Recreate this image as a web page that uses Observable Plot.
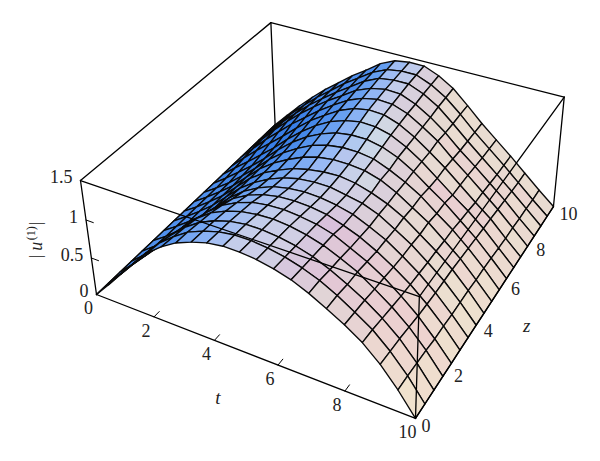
<!DOCTYPE html>
<html><head><meta charset="utf-8">
<style>html,body{margin:0;padding:0;background:#fff}svg{display:block}</style>
<script src="https://cdn.jsdelivr.net/npm/d3@7"></script>
<script src="https://cdn.jsdelivr.net/npm/@observablehq/plot@0.6"></script>
</head><body><div id="chart"></div>
<script>
const tGrid=[0,.5,1,1.5,2,2.5,3,3.5,4,4.5,5,5.5,6,6.5,7,7.5,8,8.5,9,9.5,10];
const zGrid=[0,.56,1.11,1.67,2.22,2.78,3.33,3.89,4.44,5,5.56,6.11,6.67,7.22,7.78,8.33,8.89,9.44,10];
const tTicks=[0,2,4,6,8,10];
const zTicks=[0,2,4,6,8,10];
const hTicks=[0,.5,1,1.5];
// |u(1)|: one row per z, one column per t
const heights=[
[0,.21,.43,.65,.85,1.00,1.12,1.20,1.26,1.29,1.29,1.27,1.23,1.17,1.08,.97,.85,.71,.52,.28,0],
[0,.20,.41,.63,.83,.98,1.11,1.19,1.25,1.28,1.28,1.26,1.22,1.16,1.08,.97,.84,.70,.51,.28,0],
[0,.18,.37,.58,.79,.96,1.09,1.18,1.24,1.27,1.27,1.25,1.21,1.15,1.06,.95,.83,.68,.50,.27,0],
[0,.16,.33,.53,.75,.93,1.07,1.16,1.22,1.25,1.26,1.24,1.20,1.14,1.05,.95,.81,.66,.48,.26,0],
[0,.14,.30,.48,.69,.88,1.03,1.13,1.20,1.23,1.24,1.22,1.19,1.13,1.03,.93,.80,.64,.46,.24,0],
[0,.13,.28,.44,.63,.82,.98,1.09,1.16,1.20,1.21,1.20,1.17,1.10,1.02,.91,.78,.63,.45,.24,0],
[0,.13,.27,.42,.60,.79,.94,1.05,1.13,1.17,1.19,1.18,1.15,1.10,1.01,.91,.77,.62,.44,.23,0],
[0,.13,.27,.42,.60,.78,.92,1.03,1.11,1.16,1.18,1.18,1.14,1.10,1.02,.90,.77,.61,.44,.23,0],
[0,.13,.27,.42,.60,.78,.92,1.02,1.10,1.15,1.18,1.19,1.16,1.10,1.02,.91,.76,.61,.44,.23,0],
[0,.13,.27,.42,.60,.78,.92,1.03,1.12,1.18,1.21,1.21,1.19,1.13,1.03,.90,.77,.60,.43,.22,0],
[0,.13,.27,.43,.60,.78,.93,1.05,1.15,1.21,1.24,1.24,1.21,1.13,1.03,.91,.75,.60,.42,.22,0],
[0,.14,.29,.44,.61,.79,.95,1.08,1.18,1.25,1.28,1.28,1.24,1.16,1.04,.89,.75,.58,.41,.21,0],
[0,.16,.31,.47,.63,.81,.97,1.11,1.22,1.29,1.33,1.32,1.27,1.17,1.04,.88,.72,.57,.40,.20,0],
[0,.18,.35,.51,.67,.84,1.00,1.13,1.25,1.33,1.37,1.36,1.29,1.18,1.04,.89,.72,.55,.39,.19,0],
[0,.19,.38,.55,.72,.87,1.02,1.15,1.27,1.35,1.39,1.38,1.31,1.19,1.06,.88,.72,.55,.38,.19,0],
[0,.20,.40,.58,.75,.90,1.04,1.16,1.29,1.37,1.41,1.40,1.32,1.20,1.05,.87,.71,.54,.37,.18,0],
[0,.20,.40,.58,.75,.90,1.04,1.17,1.30,1.39,1.42,1.42,1.34,1.22,1.05,.87,.70,.53,.36,.18,0],
[0,.20,.40,.58,.75,.90,1.05,1.18,1.31,1.40,1.43,1.43,1.35,1.23,1.06,.87,.70,.53,.35,.17,0],
[0,.20,.40,.58,.75,.90,1.05,1.18,1.32,1.41,1.44,1.44,1.36,1.24,1.06,.87,.70,.53,.35,.17,0]
];
// perspective camera of the box
const cam={Ax:269.4,Bx:235,Cx:-20.6,Dx:96,Ay:74,By:-144.3,Cy:-124.3,Dy:294,a:-.1195,b:.2053,c:-.0573};
function proj(t,z,h){
  const u=t/10,v=z/10,w=h/1.5,d=cam.a*u+cam.b*v+cam.c*w+1;
  return {x:(cam.Ax*u+cam.Bx*v+cam.Cx*w+cam.Dx)/d,y:(cam.Ay*u+cam.By*v+cam.Cy*w+cam.Dy)/d};
}
// view frame (box units) and the shading ramp over the way a cell faces
const R=[.919,.396,0],U=[-.356,.606,.711],V=[.282,-.653,.698],boxH=.477;
const facing=[-.8,-.75,-.5,-.25,-.1,0,.2,.45,.65,.85];
const facingColors=["#1e5ac8","#327ae6","#5f9bf0","#96b9f5","#afc3f0","#c3cdeb","#cfcfe6","#dccfd9","#e8dbd2","#f2e4cd"];
const ramp=d3.scaleLinear().domain(facing).range(facingColors).clamp(true);
function shade(i,j){
  const h=heights;
  const k=boxH/1.5;
  const dt=(tGrid[i+1]-tGrid[i])/10,dz=(zGrid[j+1]-zGrid[j])/10;
  const ht=((h[j][i+1]+h[j+1][i+1])-(h[j][i]+h[j+1][i]))/2*k;
  const hz=((h[j+1][i]+h[j+1][i+1])-(h[j][i]+h[j][i+1]))/2*k;
  let n=[-ht*dz,-hz*dt,dt*dz];
  const m=Math.hypot(...n);n=n.map(c=>c/m);
  const dot=(a,b)=>a[0]*b[0]+a[1]*b[1]+a[2]*b[2];
  const nx=dot(n,R),nz=dot(n,V);
  const c=d3.rgb(ramp(nx));
  c.g=Math.min(255,c.g+170*Math.max(0,nz-.8));
  if(nx>.3)c.g-=Math.min(14,130*Math.max(0,-hz/dz));
  return c.formatRgb();
}
const cells=[];
for(let j=zGrid.length-2;j>=0;j--)for(let i=0;i<tGrid.length-1;i++){
  const fill=shade(i,j),id=j*100+i;
  [[i,j],[i+1,j],[i+1,j+1],[i,j+1],[i,j]].forEach(([a,b])=>{
    cells.push({id,fill,...proj(tGrid[a],zGrid[b],heights[b][a])});
  });
}
function segs(list){
  const out=[];
  list.forEach((e,id)=>{out.push({id,...proj(...e[0])});out.push({id,...proj(...e[1])});});
  return out;
}
const backEdges=[[[0,0,1.5],[0,10,1.5]],[[0,10,1.5],[10,10,1.5]],[[0,10,1.5],[0,10,0]],[[0,0,0],[0,10,0]],[[0,10,0],[10,10,0]]];
const frontEdges=[[[0,0,0],[10,0,0]],[[10,0,0],[10,10,0]],[[0,0,0],[0,0,1.5]],[[10,0,0],[10,0,1.5]],[[10,10,0],[10,10,1.5]],[[0,0,1.5],[10,0,1.5]],[[10,0,1.5],[10,10,1.5]]];
const tickEdges=[...[2,4,6,8].map(t=>[[t,0,0],[t,.25,0]]),...[.5,1].map(h=>[[0,0,h],[.25,0,h]])];
const font="'Liberation Serif',serif";
const tLab=tTicks.map(t=>({s:String(t),...proj(t,0,0)}));
const zLab=zTicks.map(z=>({s:String(z),...proj(10,z,0)}));
const hLab=hTicks.map(h=>({s:String(h),...proj(0,0,h)}));
const yMid=proj(0,0,.75);
const chart=Plot.plot({
  width:600,height:461,margin:0,
  x:{domain:[0,600],axis:null},y:{domain:[461,0],axis:null},
  color:{type:"identity"},
  style:{background:"#fff"},
  marks:[
    Plot.line(segs(backEdges),{x:"x",y:"y",z:"id",stroke:"#000",strokeWidth:1.3}),
    Plot.line(cells,{x:"x",y:"y",z:"id",fill:"fill",stroke:"#0a0a0a",strokeWidth:1.35,strokeLinejoin:"round"}),
    Plot.line(segs(frontEdges),{x:"x",y:"y",z:"id",stroke:"#000",strokeWidth:1.3}),
    Plot.line(segs(tickEdges),{x:"x",y:"y",z:"id",stroke:"#000",strokeWidth:1}),
    Plot.text(tLab,{x:"x",y:"y",text:"s",dx:-8,dy:14,fontSize:18,fontFamily:font,fill:"#222"}),
    Plot.text(zLab,{x:"x",y:"y",text:"s",dx:6,dy:8,textAnchor:"start",fontSize:18,fontFamily:font,fill:"#222"}),
    Plot.text(hLab,{x:"x",y:"y",text:"s",dx:-8,dy:-3,textAnchor:"end",fontSize:18,fontFamily:font,fill:"#222"}),
    Plot.text([proj(5,0,0)],{x:"x",y:"y",text:()=>"t",dx:-28,dy:45,fontSize:19,fontStyle:"italic",fontFamily:font,fill:"#222"}),
    Plot.text([proj(10,5,0)],{x:"x",y:"y",text:()=>"z",dx:35,dy:24,fontSize:19,fontStyle:"italic",fontFamily:font,fill:"#222"}),
    Plot.text([yMid],{x:"x",y:"y",text:()=>"|",dx:-53,dy:17,rotate:-90,fontSize:17,fontFamily:font,fill:"#222"}),
    Plot.text([yMid],{x:"x",y:"y",text:()=>"u",dx:-52,dy:7,rotate:-90,fontSize:18,fontStyle:"italic",fontFamily:font,fill:"#222"}),
    Plot.text([yMid],{x:"x",y:"y",text:()=>"(1)",dx:-58,dy:-6,rotate:-90,fontSize:12,fontFamily:font,fill:"#222"}),
    Plot.text([yMid],{x:"x",y:"y",text:()=>"|",dx:-53,dy:-16,rotate:-90,fontSize:17,fontFamily:font,fill:"#222"})
  ]
});
document.getElementById("chart").append(chart);
</script></body></html>
